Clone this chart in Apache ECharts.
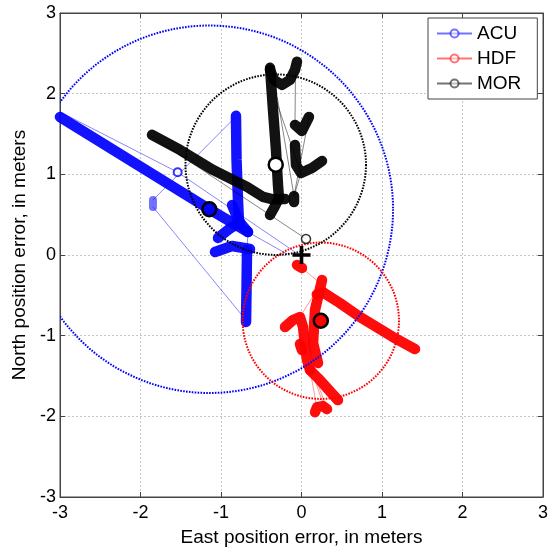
<!DOCTYPE html>
<html><head><meta charset="utf-8">
<script src="https://cdn.jsdelivr.net/npm/echarts@6/dist/echarts.min.js"></script>
<style>html,body{margin:0;padding:0;background:#fff}#c{width:556px;height:554px}</style>
</head><body><div id="c"></div>
<script>
const seriesNames = ['ACU', 'HDF', 'MOR'];
const axisMin = -3, axisMax = 3, axisStep = 1;

// ACU (blue) track strokes, connecting jumps and isolated points
const acuStrokes = [
  [[-3.0, 1.71], [-1.149, 0.571], [-0.665, 0.285]],
  [[-0.814, 1.725], [-0.807, 1.179], [-0.789, 0.682], [-0.776, 0.397]],
  [[-0.863, 0.62], [-0.78, 0.42], [-0.665, 0.285]],
  [[-1.037, 0.211], [-0.90, 0.32], [-0.764, 0.409]],
  [[-1.075, 0.037], [-0.863, 0.112], [-0.64, 0.074]],
  [[-0.677, 0.062], [-0.683, -0.434], [-0.689, -0.831]]
];
const acuFaint = [[[-1.845, 0.682], [-1.845, 0.596]]];
const acuLinks = [
  [[-3.0, 1.774], [-1.538, 1.026], [-0.07, 0.03]],
  [[-0.665, 0.285], [-0.18, 0.012]],
  [[-1.845, 0.682], [-0.83, 1.70]],
  [[-1.845, 0.596], [-0.72, -0.77]],
  [[-0.665, 0.285], [-0.677, 0.062]]
];
const acuDots = [[-1.538, 1.026]];

// HDF (red)
const hdfStrokes = [
  [[-0.056, -0.124], [0.006, -0.161]],
  [[0.19, -0.49], [0.27, -0.465], [0.478, -0.596], [0.727, -0.769], [1.137, -1.017], [1.41, -1.166]],
  [[0.255, -0.31], [0.168, -0.682], [0.143, -1.092], [0.205, -1.34]],
  [[-0.205, -0.893], [-0.106, -0.806], [-0.019, -0.769], [0.019, -0.893], [0.043, -1.117], [0.068, -1.30], [0.106, -1.427]],
  [[-0.019, -1.104], [0.006, -1.179]],
  [[0.106, -1.427], [0.205, -1.526], [0.453, -1.799]],
  [[0.168, -1.948], [0.193, -1.886], [0.267, -1.873], [0.317, -1.911]]
];
const hdfLinks = [
  [[0.006, -0.161], [0.727, -0.769]],
  [[-0.019, -0.769], [0.143, -0.509]],
  [[0.106, -1.427], [0.193, -1.90]],
  [[0.13, -1.44], [0.28, -1.88]],
  [[0.15, -1.45], [0.317, -1.911]]
];

// MOR (black)
const morStrokes = [
  [[-1.857, 1.489], [-1.509, 1.303], [-1.099, 1.055], [-0.677, 0.844], [-0.478, 0.72], [-0.354, 0.69], [-0.205, 0.695]],
  [[-0.391, 2.32], [-0.354, 1.799], [-0.317, 1.303], [-0.292, 0.868], [-0.28, 0.707], [-0.329, 0.608], [-0.391, 0.496]],
  [[-0.391, 2.295], [-0.342, 2.171], [-0.242, 2.109], [-0.143, 2.171], [-0.081, 2.295], [-0.056, 2.395]],
  [[-0.081, 1.613], [0.006, 1.538], [0.093, 1.712]],
  [[-0.081, 1.365], [-0.068, 1.117], [-0.006, 1.017], [0.13, 1.079], [0.255, 1.166]],
  [[-0.093, 0.732], [-0.093, 0.658]]
];
const morLinks = [
  [[-1.857, 1.47], [0.056, 0.199]],
  [[-0.30, 1.95], [-0.093, 0.732]],
  [[-0.31, 1.90], [-0.006, 1.017]],
  [[-0.075, 2.25], [-0.081, 1.613]],
  [[0.093, 1.712], [-0.093, 0.732]],
  [[-0.006, 1.017], [-0.093, 0.732]]
];
const morDots = [[0.056, 0.199]];

// Mean positions and circle radii
const acuCenter = [-1.145, 0.567], acuRadius = 2.28;
const hdfCenter = [0.24, -0.815], hdfRadius = 0.97;
const morCenter = [-0.32, 1.12], morRadius = 1.12;
const truthPoint = [0, 0];

const BLUE = '#0000ff', RED = '#ff0000', BLACK = '#000000';
const FONT = '"Liberation Sans", Arial, Helvetica, sans-serif';

function strokes(lines, color, width, opacity, z) {
  return lines.map(pts => ({
    type: 'line', data: pts, symbol: 'none', silent: true, z: z,
    lineStyle: { color: color, width: width, opacity: opacity, cap: 'round', join: 'round' }
  }));
}
function circleSeries(center, radius, color) {
  return {
    type: 'custom', coordinateSystem: 'cartesian2d', clip: true, silent: true, z: 5,
    data: [[center[0], center[1], radius]],
    renderItem: function (params, api) {
      const c = api.coord([api.value(0), api.value(1)]);
      const s = api.size([api.value(2), api.value(2)]);
      return { type: 'circle', shape: { cx: c[0], cy: c[1], r: (s[0] + s[1]) / 2 },
        style: { fill: 'none', stroke: color, lineWidth: 2, lineDash: [1.6, 1.3] } };
    }
  };
}
function legendSeries(name, color) {
  return { type: 'line', name: name, data: [], symbol: 'emptyCircle', symbolSize: 8,
    lineStyle: { color: color, width: 1, opacity: 0.55 }, itemStyle: { color: color, opacity: 0.55 } };
}

let series = [];
series.push(legendSeries(seriesNames[0], BLUE), legendSeries(seriesNames[1], RED), legendSeries(seriesNames[2], BLACK));
series = series.concat(strokes(acuLinks, BLUE, 0.8, 0.6, 2));
series = series.concat(strokes(acuStrokes, BLUE, 10.5, 0.93, 2));
series = series.concat(strokes(acuFaint, BLUE, 8, 0.55, 2));
series = series.concat(strokes(hdfLinks, RED, 0.8, 0.5, 3));
series = series.concat(strokes(hdfStrokes, RED, 10.5, 0.95, 3));
series = series.concat(strokes(morLinks, BLACK, 0.8, 0.6, 4));
series = series.concat(strokes(morStrokes, BLACK, 10.5, 0.93, 4));
series.push(circleSeries(acuCenter, acuRadius, BLUE));
series.push(circleSeries(hdfCenter, hdfRadius, RED));
series.push(circleSeries(morCenter, morRadius, BLACK));
series.push({ type: 'scatter', data: acuDots, symbol: 'circle', symbolSize: 8, silent: true, z: 6,
  itemStyle: { color: '#fff', borderColor: BLUE, borderWidth: 2 } });
series.push({ type: 'scatter', data: morDots, symbol: 'circle', symbolSize: 9, silent: true, z: 6,
  itemStyle: { color: '#fff', borderColor: BLACK, borderWidth: 1.5 } });
series.push({ type: 'scatter', data: [acuCenter], symbolSize: 14, silent: true, z: 8,
  itemStyle: { color: BLUE, borderColor: BLACK, borderWidth: 2.5, opacity: 1 } });
series.push({ type: 'scatter', data: [hdfCenter], symbolSize: 14, silent: true, z: 8,
  itemStyle: { color: RED, borderColor: BLACK, borderWidth: 2.5, opacity: 1 } });
series.push({ type: 'scatter', data: [morCenter], symbolSize: 14, silent: true, z: 8,
  itemStyle: { color: '#fff', borderColor: BLACK, borderWidth: 2.5, opacity: 1 } });
series.push({ type: 'scatter', data: [truthPoint], symbol: 'path://M8,0H12V8H20V12H12V20H8V12H0V8H8Z',
  symbolSize: 18, silent: true, z: 9, itemStyle: { color: BLACK, opacity: 1 } });

const chart = echarts.init(document.getElementById('c'), null, { renderer: 'canvas' });
const axisCommon = {
  type: 'value', min: axisMin, max: axisMax, interval: axisStep,
  axisLine: { show: true, onZero: false, lineStyle: { color: '#444', width: 1 } },
  axisTick: { show: true, inside: true, length: 5, lineStyle: { color: '#444' } }
};
chart.setOption({
  animation: false,
  backgroundColor: '#fff',
  textStyle: { fontFamily: FONT },
  grid: { left: 60, right: 13, top: 13, bottom: 57, show: true, borderColor: '#444', borderWidth: 1 },
  legend: {
    data: seriesNames, orient: 'vertical', left: 428, top: 18,
    padding: [6, 16, 6, 8], itemGap: 6, itemWidth: 35, itemHeight: 10,
    backgroundColor: '#fff', borderColor: '#444', borderWidth: 1, borderRadius: 0,
    textStyle: { fontSize: 19, color: '#000', fontFamily: FONT }, selectedMode: false
  },
  xAxis: [
    Object.assign({}, axisCommon, {
      position: 'bottom', name: 'East position error, in meters', nameLocation: 'middle', nameGap: 31,
      nameTextStyle: { fontSize: 19, color: '#000', fontFamily: FONT },
      axisLabel: { fontSize: 18, color: '#000', margin: 7, fontFamily: FONT },
      splitLine: { show: true, lineStyle: { color: '#b8b8b8', type: [2, 2], width: 0.8 } }
    }),
    Object.assign({}, axisCommon, { position: 'top', axisLabel: { show: false }, splitLine: { show: false } })
  ],
  yAxis: [
    Object.assign({}, axisCommon, {
      position: 'left', name: 'North position error, in meters', nameLocation: 'middle', nameGap: 25,
      nameTextStyle: { fontSize: 19, color: '#000', fontFamily: FONT },
      axisLabel: { fontSize: 18, color: '#000', margin: 4, fontFamily: FONT },
      splitLine: { show: true, lineStyle: { color: '#b8b8b8', type: [2, 2], width: 0.8 } }
    }),
    Object.assign({}, axisCommon, { position: 'right', axisLabel: { show: false }, splitLine: { show: false } })
  ],
  series: series
});
</script></body></html>
